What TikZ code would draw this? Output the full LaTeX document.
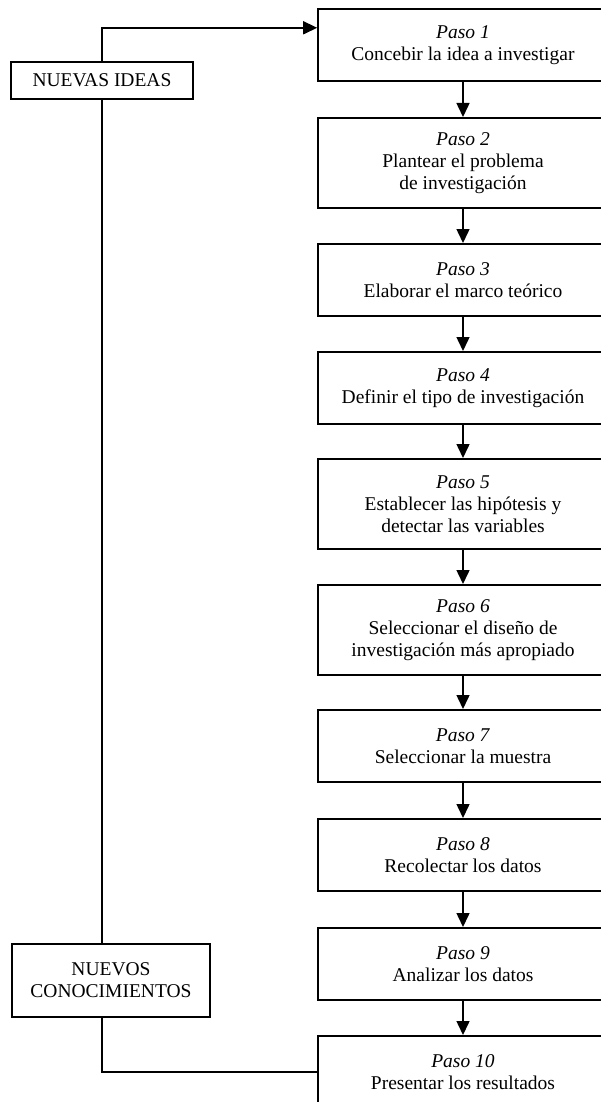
\documentclass[tikz,border=0pt]{standalone}
\usepackage{fontspec}
\setmainfont{Liberation Serif}
\usetikzlibrary{arrows.meta}

\tikzset{
    pasobox/.style={draw, line width=1.6pt, minimum width=290pt, minimum height=72pt,
        align=center, anchor=north, font=\fontsize{19.5}{22}\selectfont},
    dosbox/.style={pasobox, minimum height=90pt},
    notabox/.style={draw, line width=1.6pt, align=center, inner sep=0pt,
        font=\fontsize{19.5}{22}\selectfont},
    flecha/.style={line width=1.5pt, -{Triangle[length=14pt, width=13pt]}},
    linea/.style={line width=1.5pt}
}

\begin{document}
\begin{tikzpicture}[x=1pt, y=-1pt]
    \clip (0,0) rectangle (601,1102);

    \node [pasobox] (paso1) at (463, 8) {\textit{Paso 1}\\Concebir la idea a investigar};
    \node [dosbox] (paso2) at (463, 117) {\textit{Paso 2}\\Plantear el problema\\de investigación};
    \node [pasobox] (paso3) at (463, 243) {\textit{Paso 3}\\Elaborar el marco teórico};
    \node [pasobox] (paso4) at (463, 351) {\textit{Paso 4}\\Definir el tipo de investigación};
    \node [dosbox] (paso5) at (463, 458) {\textit{Paso 5}\\Establecer las hipótesis y\\detectar las variables};
    \node [dosbox] (paso6) at (463, 584) {\textit{Paso 6}\\Seleccionar el diseño de\\investigación más apropiado};
    \node [pasobox] (paso7) at (463, 709) {\textit{Paso 7}\\Seleccionar la muestra};
    \node [pasobox] (paso8) at (463, 818) {\textit{Paso 8}\\Recolectar los datos};
    \node [pasobox] (paso9) at (463, 927) {\textit{Paso 9}\\Analizar los datos};
    \node [pasobox] (paso10) at (463, 1035) {\textit{Paso 10}\\Presentar los resultados};

    \node [notabox, minimum width=182pt, minimum height=37pt] (ideas) at (102, 80.5) {NUEVAS IDEAS};
    \node [notabox, minimum width=198pt, minimum height=73pt] (conoc) at (111, 980.5) {NUEVOS\\CONOCIMIENTOS};

    \foreach \i [count=\j from 2] in {1,...,9}
        \draw [flecha] (paso\i) -- (paso\j);

    \draw [linea] (paso10.west) -| (ideas.south |- conoc.south);
    \draw [linea] (ideas.south |- conoc.north) -- (ideas.south);
    \draw [flecha] (ideas.north) |- ([yshift=17pt]paso1.west);
\end{tikzpicture}
\end{document}
